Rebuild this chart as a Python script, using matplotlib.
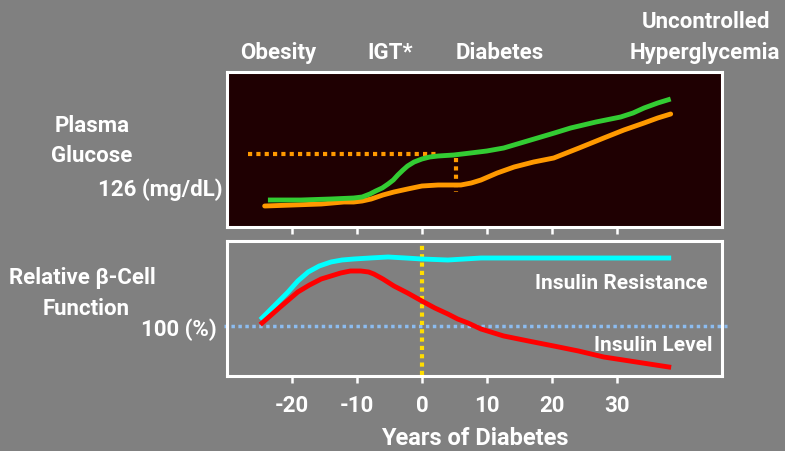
import matplotlib
matplotlib.use("Agg")
import matplotlib.pyplot as plt

plt.rcParams['font.family'] = ['Roboto', 'DejaVu Sans']
plt.rcParams['font.weight'] = 'bold'
plt.rcParams['axes.unicode_minus'] = False

# years since diagnosis
glucose_fasting_x = [-23.7, -18.6, -14, -10.5, -9.2, -8.0, -7.1, -6.1, -5.2, -4.4, -3.7, -2.9, -2.2, -1.2, 0, 1.2, 2.5, 4.9, 7.5, 10, 12.6, 15.2, 17.8, 20.4, 22.9, 26.8, 30.6, 32.5, 34.2, 36.3, 38.3]
glucose_fasting_y = [27, 27, 28, 29, 30, 33, 36, 39, 43, 47, 52, 57, 61, 65, 68, 70, 71, 72, 74, 76, 79, 84, 89, 94, 99, 105, 110, 114, 119, 124, 128]
glucose_post_x = [-24.2, -15.5, -12, -10.5, -9.2, -7.8, -6, -4.3, -2.2, 0, 2.5, 6, 7.6, 9.1, 11.6, 14.2, 17.2, 20.3, 24.2, 28, 31.1, 34.2, 36.3, 38.3]
glucose_post_y = [21, 23, 25, 25, 26, 28, 32, 35, 38, 41, 42, 42, 44, 47, 54, 60, 65, 69, 79, 89, 97, 104, 109, 113]

resist_x = [-24.6, -22.6, -20.6, -19.1, -17.5, -15.8, -14, -12.3, -10.5, -8, -5.2, -2.5, 0, 4, 9.1, 38]
resist_y = [58, 71, 84, 95, 104, 110, 114, 116, 117, 118, 119, 118, 117, 116, 118, 118]
insulin_x = [-24.6, -21.8, -19.1, -17.3, -15.5, -14, -12.5, -11, -9.4, -8.2, -7.4, -6, -4.3, -2.2, 0, 2, 4, 5.5, 7.1, 9.1, 12.6, 16.4, 20.3, 24.1, 28, 33, 38]
insulin_y = [53, 69, 84, 91, 97, 100, 103, 105, 105, 104, 102, 97, 90, 83, 75, 68, 62, 57, 53, 47, 40, 35, 30, 25, 19, 14, 9]

threshold_glucose = 73
threshold_function = 50
xticks = [-20, -10, 0, 10, 20, 30]

BG = '#808080'
W = 'white'

fig = plt.figure(figsize=(7.85, 4.52), dpi=100, facecolor=BG)

ax1 = fig.add_axes([227 / 785, 1 - 228 / 452, 495 / 785, 155 / 452])
ax2 = fig.add_axes([227 / 785, 1 - 377 / 452, 495 / 785, 135 / 452])

for ax in (ax1, ax2):
    ax.set_xlim(-30, 46.2)
    ax.set_xticks(xticks)
    ax.set_yticks([])
    for s in ax.spines.values():
        s.set_color(W)
        s.set_linewidth(2.2)
    ax.tick_params(axis='x', direction='out', length=5, width=1.8, color=W,
                   labelcolor=W, labelsize=16, pad=8)

ax1.set_facecolor('#1f0002')
ax1.set_ylim(0, 155)
ax1.tick_params(axis='x', labelbottom=False)
ax1.plot([-26.8, 2.6], [threshold_glucose] * 2, color='#ff9900', lw=3, ls=(0, (1, 1)))
ax1.plot([5.2, 5.2], [threshold_glucose - 4, 35], color='#ff9900', lw=3, ls=(0, (1, 1)))
ax1.plot(glucose_post_x, glucose_post_y, color='#ff9900', lw=3.5, solid_capstyle='round',
         solid_joinstyle='round')
ax1.plot(glucose_fasting_x, glucose_fasting_y, color='#33cc33', lw=3.5, solid_capstyle='butt',
         solid_joinstyle='round')

ax2.set_facecolor(BG)
ax2.set_ylim(0, 135)
ax2.plot([-30.5, 47], [threshold_function] * 2, color='#8cbcf0', lw=2.5, ls=(0, (1, 1)),
         clip_on=False)
ax2.plot([0, 0], [1, 131], color='#ffdd00', lw=3, ls=(0, (1, 1)))
ax2.plot(resist_x, resist_y, color='#00ffff', lw=3.5, solid_joinstyle='round')
ax2.plot(insulin_x, insulin_y, color='#ff0000', lw=3.5, solid_joinstyle='round')
for lab in ax2.get_xticklabels():
    lab.set_fontweight('bold')
ax2.set_xlabel('Years of Diabetes', color=W, fontsize=17, fontweight='bold', labelpad=7)
ax2.text(0.97, 0.69, 'Insulin Resistance', transform=ax2.transAxes, ha='right', va='center',
         color=W, fontsize=15, fontweight='bold')
ax2.text(0.98, 0.23, 'Insulin Level', transform=ax2.transAxes, ha='right', va='center',
         color=W, fontsize=15, fontweight='bold')

def ftxt(x, y, s, ha='center'):
    fig.text(x / 785, 1 - y / 452, s, ha=ha, va='center', color=W, fontsize=16,
             fontweight='bold')

ftxt(278, 53, 'Obesity')
ftxt(390, 53, 'IGT*')
ftxt(500, 53, 'Diabetes')
ftxt(706, 22, 'Uncontrolled')
ftxt(705, 53, 'Hyperglycemia')
ftxt(92, 126, 'Plasma')
ftxt(92, 156, 'Glucose')
ftxt(223, 190, '126 (mg/dL)', ha='right')
ftxt(82, 278, 'Relative β-Cell')
ftxt(86, 309, 'Function')
ftxt(217, 330, '100 (%)', ha='right')

fig.savefig('out.png', dpi=100, facecolor=BG)
